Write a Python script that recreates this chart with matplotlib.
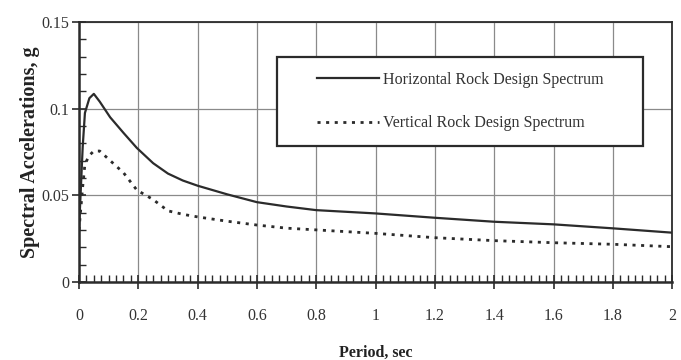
import matplotlib
matplotlib.use("Agg")
import matplotlib.pyplot as plt
from matplotlib.patches import Rectangle
from matplotlib.ticker import MultipleLocator

# data
period = [0, 0.0125, 0.02, 0.035, 0.05, 0.07, 0.105, 0.15, 0.195, 0.25, 0.3,
          0.35, 0.4, 0.5, 0.6, 0.7, 0.8, 1.0, 1.2, 1.4, 1.6, 1.8, 2.0]
horizontal = [0.030, 0.078, 0.0975, 0.106, 0.1085, 0.104, 0.095, 0.086, 0.0773,
              0.0685, 0.0625, 0.0585, 0.0555, 0.0505, 0.046, 0.0435, 0.0414,
              0.0395, 0.037, 0.0347, 0.0332, 0.0309, 0.0284]
vertical = [0.030, 0.055, 0.068, 0.073, 0.0755, 0.0755, 0.070, 0.063, 0.053,
            0.0475, 0.041, 0.039, 0.0375, 0.035, 0.0328, 0.031, 0.030, 0.028,
            0.0255, 0.0238, 0.0226, 0.0217, 0.0203]
xticks = [0, 0.2, 0.4, 0.6, 0.8, 1.0, 1.2, 1.4, 1.6, 1.8, 2.0]
xticklabels = ["0", "0.2", "0.4", "0.6", "0.8", "1", "1.2", "1.4", "1.6", "1.8", "2"]
yticks = [0, 0.05, 0.1, 0.15]
yticklabels = ["0", "0.05", "0.1", "0.15"]

plt.rcParams['font.family'] = ['Liberation Serif', 'DejaVu Serif']
ink = "#2b2b2b"

fig = plt.figure(figsize=(6.81, 3.6), dpi=100)
ax = fig.add_axes([0.116, 0.217, 0.871, 0.722])

ax.plot(period, horizontal, color=ink, lw=1.6, label="Horizontal Rock Design Spectrum")
ax.plot(period, vertical, color=ink, lw=2.0, linestyle=(0, (1.1, 2.0)),
        label="Vertical Rock Design Spectrum")

ax.set_xlim(0, 2)
ax.set_ylim(0, 0.15)
ax.set_xticks(xticks)
ax.set_xticklabels(xticklabels)
ax.set_yticks(yticks)
ax.set_yticklabels(yticklabels)
ax.xaxis.set_minor_locator(MultipleLocator(0.025))
ax.yaxis.set_minor_locator(MultipleLocator(0.01))
ax.tick_params(which="major", direction="inout", length=10, width=1.2, color=ink,
               labelsize=11.5, labelcolor="#333333")
ax.tick_params(axis="x", which="major", pad=14)
ax.tick_params(axis="y", which="major", pad=2)
ax.tick_params(which="minor", direction="in", length=5, width=1.0, color=ink)

ax.grid(True, which="major", color="#8a8a8a", lw=0.9)
for s in ax.spines.values():
    s.set_color(ink)
    s.set_linewidth(1.3)
ax.spines["left"].set_linewidth(1.8)
ax.spines["bottom"].set_linewidth(1.8)

ax.set_xlabel("Period, sec", fontsize=11.5, fontweight="bold", labelpad=15, color="#222222")
ax.set_ylabel("Spectral Accelerations, g", fontsize=14.5, fontweight="bold",
              labelpad=1, color="#222222")

# legend box: frame drawn separately so the entries sit centred inside it
box = (0.334, 0.523, 0.617, 0.342)
ax.add_patch(Rectangle(box[:2], box[2], box[3], transform=ax.transAxes,
                       facecolor="white", edgecolor=ink, lw=1.6, zorder=4))
leg = ax.legend(loc="center", bbox_to_anchor=(box[0] + box[2] / 2, box[1] + box[3] / 2),
                frameon=False, fontsize=11.5, handlelength=3.9, handletextpad=0.2,
                labelspacing=1.75, borderpad=0, borderaxespad=0)
leg.set_zorder(5)
for t in leg.get_texts():
    t.set_color("#333333")

fig.savefig("out.png", dpi=100)
